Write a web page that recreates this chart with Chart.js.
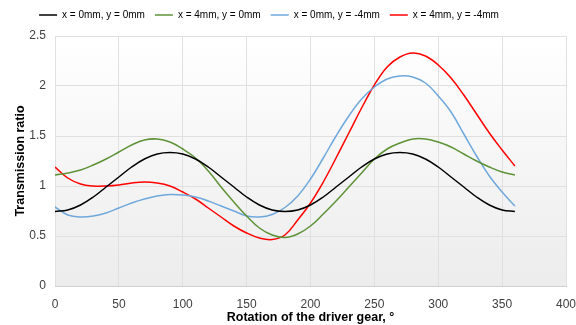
<!DOCTYPE html>
<html><head><meta charset="utf-8">
<script src="https://cdn.jsdelivr.net/npm/chart.js@4/dist/chart.umd.min.js"></script>
<style>html,body{margin:0;padding:0;background:#fff;}canvas{display:block;}</style>
</head><body>
<canvas id="c" width="576" height="325"></canvas>
<script>
const angles = [0,10,20,30,40,50,60,70,80,90,100,110,120,130,140,150,160,170,180,190,200,210,220,230,240,250,260,270,280,290,300,310,320,330,340,350,360];
const seriesNames = ["x = 0mm, y = 0mm", "x = 4mm, y = 0mm", "x = 0mm, y = -4mm", "x = 4mm, y = -4mm"];
const ratioX0Y0 = [0.745,0.76,0.81,0.89,0.99,1.09,1.19,1.27,1.32,1.335,1.32,1.27,1.19,1.09,0.99,0.89,0.81,0.76,0.745,0.76,0.81,0.89,0.99,1.09,1.19,1.27,1.32,1.335,1.32,1.27,1.19,1.09,0.99,0.89,0.81,0.76,0.745];
const ratioX4Y0 = [1.11,1.13,1.16,1.21,1.27,1.34,1.41,1.46,1.47,1.44,1.37,1.28,1.15,0.99,0.84,0.70,0.58,0.51,0.485,0.52,0.60,0.72,0.85,0.99,1.13,1.27,1.37,1.43,1.47,1.47,1.44,1.39,1.32,1.25,1.19,1.14,1.11];
const ratioX0Ym4 = [0.79,0.71,0.69,0.70,0.73,0.78,0.83,0.87,0.90,0.915,0.91,0.89,0.85,0.80,0.75,0.70,0.69,0.715,0.785,0.90,1.07,1.28,1.50,1.70,1.87,1.99,2.07,2.10,2.09,2.03,1.90,1.74,1.52,1.30,1.10,0.94,0.80];
const ratioX4Ym4 = [1.19,1.08,1.02,1.00,1.00,1.01,1.03,1.04,1.03,1.00,0.94,0.87,0.78,0.69,0.60,0.53,0.48,0.465,0.51,0.66,0.83,1.04,1.28,1.53,1.78,2.01,2.19,2.29,2.33,2.30,2.21,2.08,1.91,1.72,1.53,1.36,1.20];
const xTicks = [0,50,100,150,200,250,300,350,400];
const yTicks = [0,0.5,1,1.5,2,2.5];
const colors = ["#000000","#5E9237","#6FA8DC","#FF0000"];

const allSeries = [ratioX0Y0, ratioX4Y0, ratioX0Ym4, ratioX4Ym4];
const datasets = allSeries.map((vals, i) => ({
  label: seriesNames[i],
  data: angles.map((a, j) => ({x: a, y: vals[j]})),
  borderColor: colors[i],
  backgroundColor: colors[i],
  borderWidth: 1.5,
  pointRadius: 0,
  tension: 0.4,
  fill: false
}));

const bgPlugin = {
  id: 'plotBg',
  beforeUpdate(chart) {
    const lg = chart.legend;
    if (lg && !lg._patched) {
      const orig = lg.fit;
      lg.fit = function () { orig.call(this); this.height += 6; };
      lg._patched = true;
    }
  },
  afterLayout(chart) {
    const lg = chart.legend;
    if (lg) { lg.left -= 19; lg.right -= 19; }
  },
  beforeDraw(chart) {
    const {ctx, chartArea: a} = chart;
    const g = ctx.createLinearGradient(0, a.top, 0, a.bottom);
    g.addColorStop(0, '#ffffff');
    g.addColorStop(1, '#ececec');
    ctx.save();
    ctx.fillStyle = g;
    ctx.fillRect(a.left, a.top, a.right - a.left, a.bottom - a.top);
    ctx.restore();
  }
};

Chart.defaults.font.family = "'Liberation Sans', Arial, sans-serif";
Chart.defaults.color = '#404040';

new Chart(document.getElementById('c'), {
  type: 'line',
  data: { datasets },
  plugins: [bgPlugin],
  options: {
    responsive: false,
    animation: false,
    layout: { padding: { left: 0, right: 0, top: 0, bottom: 0 } },
    plugins: {
      legend: {
        position: 'top',
        labels: {
          usePointStyle: true,
          pointStyle: 'line',
          pointStyleWidth: 18,
          boxWidth: 18,
          font: { size: 10 },
          color: '#000000',
          padding: 10
        }
      },
      tooltip: { enabled: false }
    },
    scales: {
      x: {
        type: 'linear',
        min: 0, max: 400,
        afterBuildTicks(scale) { scale.ticks = xTicks.map(v => ({value: v})); },
        ticks: { font: { size: 12 }, color: '#404040', padding: 11, callback: v => String(v) },
        grid: { color: '#e0e0e0', drawTicks: false },
        border: { color: '#d0d0d0' },
        title: { display: true, text: 'Rotation of the driver gear, °', font: { size: 12.5, weight: 'bold' }, color: '#000000', padding: { top: 2, bottom: 0 } },
        afterFit(scale) { scale.height = 39; scale.paddingRight = 10; }
      },
      y: {
        type: 'linear',
        min: 0, max: 2.5,
        afterBuildTicks(scale) { scale.ticks = yTicks.map(v => ({value: v})); },
        ticks: { font: { size: 12 }, color: '#404040', padding: 9, callback: v => String(v) },
        grid: { color: '#e0e0e0', drawTicks: false },
        border: { display: false },
        title: { display: true, text: 'Transmission ratio', font: { size: 12.5, weight: 'bold' }, color: '#000000', padding: { top: 13, bottom: 0 } },
        afterFit(scale) { scale.width = 55; }
      }
    }
  }
});
</script>
</body></html>
